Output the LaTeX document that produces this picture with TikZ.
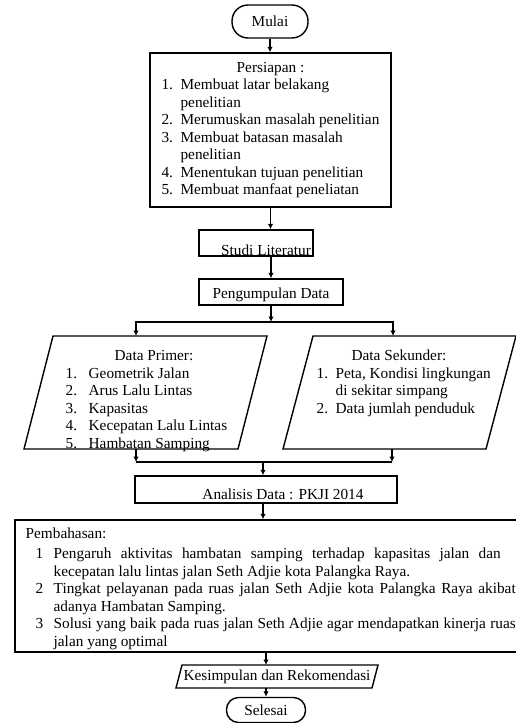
\documentclass[tikz,border=0pt]{standalone}
\usepackage{fontspec}
\setmainfont{Liberation Serif}
\usetikzlibrary{arrows.meta}
\begin{document}
\begin{tikzpicture}[x=1pt,y=-1pt,
  line width=1.4pt,
  >={Latex[length=5.5pt,width=5.5pt]},
  txt/.style={font=\fontsize{15.3}{17.5}\selectfont, inner sep=0pt},
  boxn/.style={draw, rectangle, inner sep=0pt, font=\fontsize{15.3}{17.5}\selectfont},
  term/.style={draw, rectangle, rounded corners=#1, inner sep=0pt, font=\fontsize{15.3}{17.5}\selectfont}
]
\useasboundingbox (0,0) rectangle (516,723);
\clip (0,0) rectangle (516,723);

% start
\node[term=16pt, minimum width=76pt, minimum height=33pt] (mulai) at (270,21.5) {Mulai};

% Persiapan
\node[boxn, minimum width=241pt, minimum height=154pt] (persiapan) at (270.5,130)
 {\begin{tabular}{@{}p{19pt}@{}l@{}}
  \multicolumn{2}{c}{Persiapan :}\\
  1.&Membuat latar belakang\\
  &penelitian\\
  2.&Merumuskan masalah penelitian\\
  3.&Membuat batasan masalah\\
  &penelitian\\
  4.&Menentukan tujuan penelitian\\
  5.&Membuat manfaat peneliatan
 \end{tabular}};
\draw[->] (mulai.south) -- (mulai.south |- persiapan.north);

% Studi literatur
\node[boxn, minimum width=114pt, minimum height=26pt] (studi) at (256,243) {};
\node[txt, anchor=base] (studit) at (266,255.5) {Studi Literatur};
\draw[->] (persiapan.south) -- (persiapan.south |- studi.north);

% Pengumpulan data
\node[boxn, minimum width=144pt, minimum height=26pt] (kumpul) at (271,292) {};
\node[txt, anchor=base] (kumpult) at (271,298) {Pengumpulan Data};
\draw[->] (kumpul.north |- studi.south) -- (kumpul.north);

% split
\coordinate (bsplit) at (271,322);
\coordinate (primtop) at (136,336);
\coordinate (sektop) at (393,336);
\draw[->] (kumpul.south) -- (bsplit);
\draw[->] (bsplit) -| (primtop);
\draw[->] (bsplit) -| (sektop);

% Data primer
\coordinate (p1) at (53,336);
\coordinate (p2) at (267,336);
\coordinate (p3) at (238,449);
\coordinate (p4) at (24,449);
\draw (p1) -- (p2) -- (p3) -- (p4) -- cycle;
\node[txt, anchor=base] (primt) at (154,360) {Data Primer:};
\node[txt, anchor=north west] (priml) at (65,365.15)
 {\begin{tabular}{@{}p{23pt}@{}l@{}}
  1.&Geometrik Jalan\\
  2.&Arus Lalu Lintas\\
  3.&Kapasitas\\
  4.&Kecepatan Lalu Lintas\\
  5.&Hambatan Samping
 \end{tabular}};

% Data sekunder
\coordinate (s1) at (313,336);
\coordinate (s2) at (516,336);
\coordinate (s3) at (486,449);
\coordinate (s4) at (283,449);
\draw (s1) -- (s2) -- (s3) -- (s4) -- cycle;
\node[txt, anchor=base] (sekt) at (399,360) {Data Sekunder:};
\node[txt, anchor=north west] (sekl) at (316,365.15)
 {\begin{tabular}{@{}p{19pt}@{}l@{}}
  1.&Peta, Kondisi lingkungan\\
  &di sekitar simpang\\
  2.&Data jumlah penduduk
 \end{tabular}};

% merge
\coordinate (pb) at (136,449);
\coordinate (sb) at (392,449);
\coordinate (ml) at (136,462);
\coordinate (mr) at (392,462);
\coordinate (mg) at (263,462);
\draw[->] (pb) -- (ml);
\draw[->] (sb) -- (mr);
\draw (ml) -- (mr);

% Analisis
\node[boxn, minimum width=262pt, minimum height=27pt] (anal) at (266,489.5) {};
\node[txt, anchor=base] (analt) at (283,499) {Analisis Data : PKJI 2014};
\draw[->] (mg) -- (mg |- anal.north);

% Pembahasan
\node[boxn, minimum width=510pt, minimum height=132pt] (bahas) at (270,586) {};
\draw[->] (mg |- anal.south) -- (mg |- bahas.north);
\node[txt, anchor=base west] (bahast) at (25,538) {Pembahasan:};
\node[txt, anchor=north west] (bahasl) at (35,545.75)
 {\begin{tabular}{@{}p{18pt}@{}l@{}}
  1&\makebox[447pt][s]{Pengaruh aktivitas hambatan samping terhadap kapasitas jalan dan}\\
  &kecepatan lalu lintas jalan Seth Adjie kota Palangka Raya.\\
  2&\makebox[462pt][s]{Tingkat pelayanan pada ruas jalan Seth Adjie kota Palangka Raya akibat}\\
  &adanya Hambatan Samping.\\
  3&\makebox[462pt][s]{Solusi yang baik pada ruas jalan Seth Adjie agar mendapatkan kinerja ruas}\\
  &jalan yang optimal
 \end{tabular}};

% Kesimpulan
\coordinate (k1) at (182,665);
\coordinate (k2) at (378,665);
\coordinate (k3) at (372,688);
\coordinate (k4) at (176,688);
\draw (k1) -- (k2) -- (k3) -- (k4) -- cycle;
\node[txt] (kesim) at (277,676.5) {Kesimpulan dan Rekomendasi};
\coordinate (kt) at (266,665);
\coordinate (kb) at (266,688);
\draw[->] (bahas.south -| kt) -- (kt);

% Selesai
\node[term=12pt, minimum width=79pt, minimum height=25pt] (selesai) at (266,710) {Selesai};
\draw[->] (kb) -- (selesai.north -| kb);
\end{tikzpicture}
\end{document}
